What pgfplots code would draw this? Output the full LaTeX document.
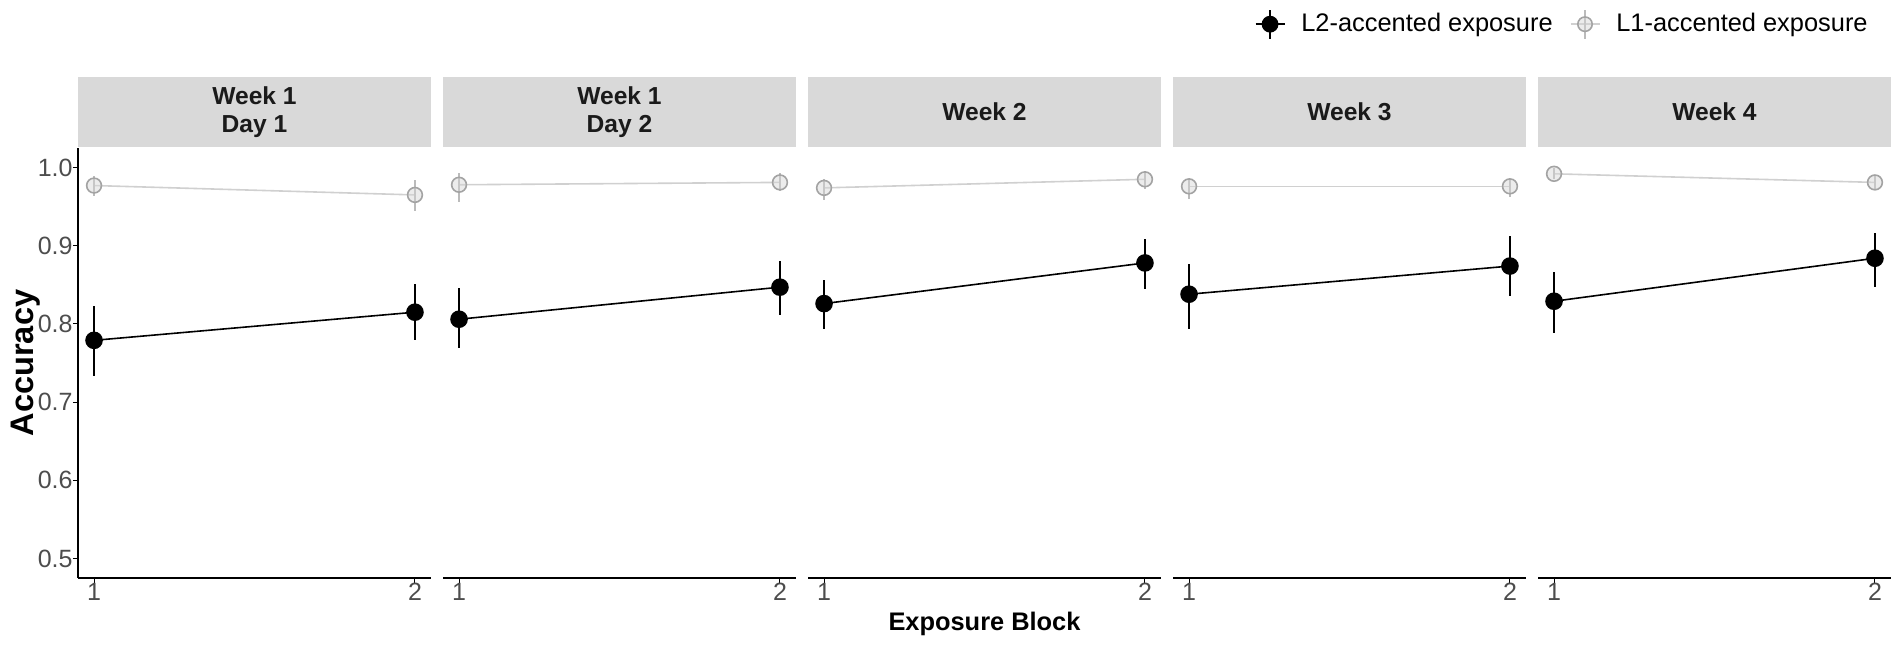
\documentclass[border=0pt]{standalone}
\usepackage{fontspec}
\setmainfont{Liberation Sans}
\usepackage{pgfplots}
\pgfplotsset{compat=1.18}
\usepackage{pgfplotstable}

\definecolor{stripgray}{HTML}{D9D9D9}
\definecolor{ticktext}{HTML}{4D4D4D}
\definecolor{striptext}{HTML}{1A1A1A}
\definecolor{lonel}{HTML}{D0D0D0}
\definecolor{lonebar}{HTML}{BBBBBB}
\definecolor{lonemark}{HTML}{A3A3A3}
\definecolor{lonefill}{HTML}{D5D5D5}

% x  L2 (a, +, -)   L1 (b, +, -)
\pgfplotstableread{
x a ap am b bp bm
1 0.779 0.044 0.046 0.977 0.012 0.014
2 0.815 0.036 0.036 0.965 0.019 0.021
}\pone
\pgfplotstableread{
x a ap am b bp bm
1 0.806 0.040 0.037 0.978 0.015 0.022
2 0.847 0.034 0.036 0.981 0.012 0.011
}\ptwo
\pgfplotstableread{
x a ap am b bp bm
1 0.826 0.030 0.032 0.974 0.011 0.015
2 0.878 0.031 0.033 0.985 0.009 0.012
}\pthree
\pgfplotstableread{
x a ap am b bp bm
1 0.838 0.039 0.044 0.976 0.009 0.016
2 0.874 0.038 0.038 0.976 0.009 0.014
}\pfour
\pgfplotstableread{
x a ap am b bp bm
1 0.829 0.037 0.041 0.992 0.008 0.007
2 0.884 0.032 0.037 0.981 0.010 0.010
}\pfive

\tikzset{
  strip/.style={fill=stripgray, anchor=south, yshift=0.25pt,
    minimum width=176.5pt, minimum height=35.25pt, inner sep=0pt,
    align=center, font=\fontsize{12.3}{14}\selectfont\bfseries, text=striptext},
}
\pgfplotsset{
  panel/.style={
    width=176.5pt, height=215pt, scale only axis,
    anchor=south west,
    xmin=0.95, xmax=2.05, ymin=0.475, ymax=1.025,
    xtick={1,2}, xticklabels={1,2},
    axis x line*=bottom,
    axis line style={-, line width=0.7pt, black},
    tick align=outside, major tick length=2.5pt,
    tick style={line width=0.5pt, black},
    xticklabel style={font=\fontsize{12.5}{15}\selectfont, text=ticktext, inner sep=0pt},
    yticklabel style={font=\fontsize{12.5}{15}\selectfont, text=ticktext, inner sep=0pt},
    clip=false,
  },
  ltwo/.style={black, line width=0.8pt, mark=*, mark size=4pt,
    mark options={solid, fill=black, draw=black},
    error bars/y dir=both, error bars/y explicit,
    error bars/error bar style={line width=0.8pt, black}, error bars/error mark=none},
  lone/.style={lonel, line width=0.8pt, mark=*, mark size=3.7pt,
    mark options={solid, draw=lonemark, fill=lonefill, fill opacity=0.45, line width=0.8pt},
    error bars/y dir=both, error bars/y explicit,
    error bars/error bar style={line width=0.8pt, lonebar}, error bars/error mark=none},
}

\newcommand{\panel}[5]{%
\begin{axis}[panel, at={(#1,33pt)}, #4]
  \addplot[forget plot, lone] table[x=x, y=b, y error plus=bp, y error minus=bm] {#2};
  \addplot[forget plot, ltwo] table[x=x, y=a, y error plus=ap, y error minus=am] {#2};
  \node[strip] at (rel axis cs:0.5,1) {#3};
  #5
\end{axis}}

\begin{document}
\begin{tikzpicture}
\path[use as bounding box] (0pt,0pt) rectangle (951pt,322pt);

\panel{39pt}{\pone}{Week 1\\Day 1}{axis y line*=left,
  ytick={0.5,0.6,0.7,0.8,0.9,1.0}, yticklabels={0.5,0.6,0.7,0.8,0.9,1.0}}{}
\panel{221.5pt}{\ptwo}{Week 1\\Day 2}{axis y line=none, ytick=\empty}{}
\panel{404pt}{\pthree}{Week 2}{axis y line=none, ytick=\empty}{}
\panel{586.5pt}{\pfour}{Week 3}{axis y line=none, ytick=\empty}{}
\panel{769pt}{\pfive}{Week 4}{axis y line=none, ytick=\empty,
  legend columns=2, legend cell align=left,
  legend style={at={(0.935,1.288)}, anchor=east, draw=none, fill=none,
    inner sep=0pt, font=\fontsize{12.7}{15}\selectfont,
    nodes={inner sep=0pt},
    /tikz/every odd column/.append style={column sep=8pt},
    /tikz/every even column/.append style={column sep=8.5pt}}}{%
  \addlegendimage{black, line width=0.8pt, legend image code/.code={
    \draw[black, line width=0.8pt] (0pt,0pt) -- (14.5pt,0pt);
    \draw[black, line width=0.8pt] (7.25pt,-7.25pt) -- (7.25pt,7.25pt);
    \fill[black] (7.25pt,0pt) circle[radius=3.8pt];}}
  \addlegendimage{lonel, line width=0.8pt, legend image code/.code={
    \draw[lonel, line width=0.8pt] (0pt,0pt) -- (14.5pt,0pt);
    \draw[lonebar, line width=0.8pt] (7.25pt,-7.25pt) -- (7.25pt,7.25pt);
    \draw[lonemark, fill=lonefill, fill opacity=0.45, line width=0.8pt] (7.25pt,0pt) circle[radius=3.6pt];}}
  \legend{L2-accented exposure, L1-accented exposure}
}

\node[rotate=90, anchor=base, font=\fontsize{16.3}{19}\selectfont\bfseries] at (16.5pt,140.5pt) {Accuracy};
\node[anchor=base, font=\fontsize{12.7}{15}\selectfont\bfseries] at (492.25pt,7pt) {Exposure Block};
\end{tikzpicture}
\end{document}
